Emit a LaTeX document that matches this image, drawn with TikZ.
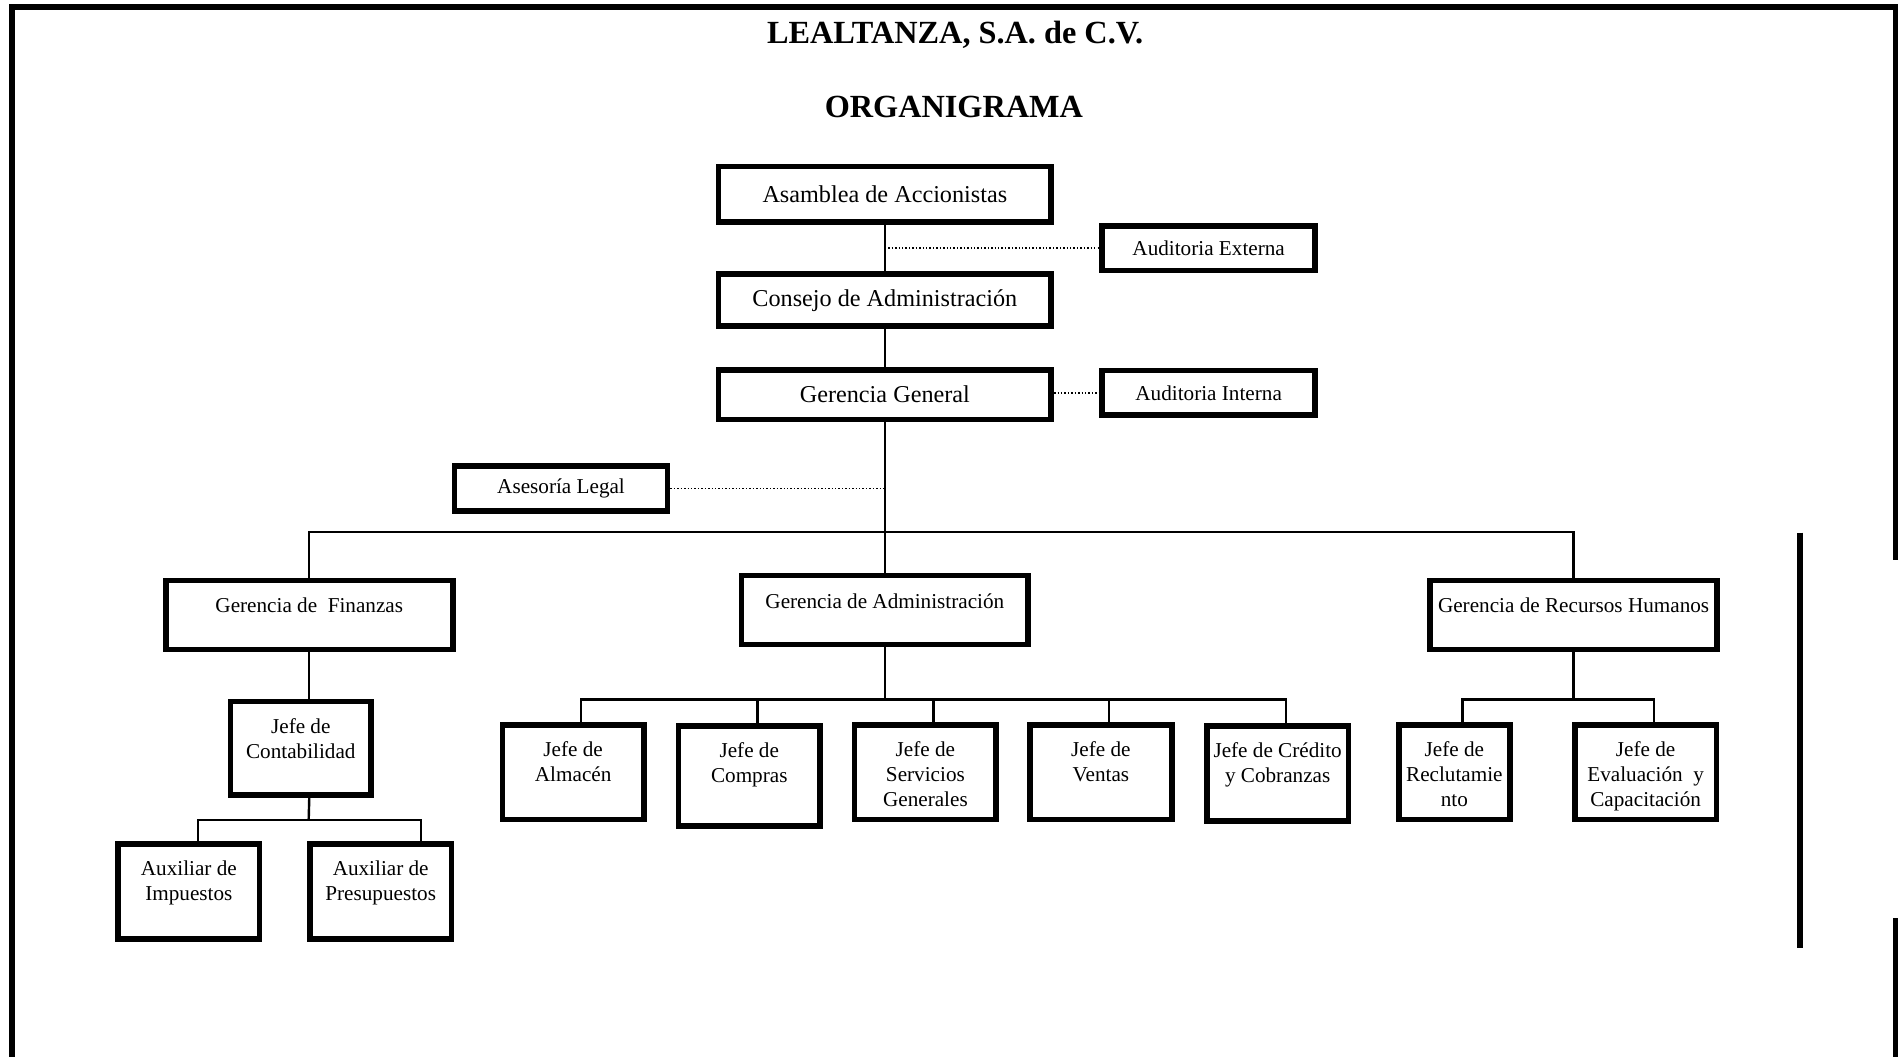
\documentclass[tikz,border=0pt]{standalone}
\usepackage{fontspec}
\setmainfont{Liberation Serif}
\usetikzlibrary{positioning}

\tikzset{
  caja/.style={draw, line width=2.8pt, inner sep=0pt, font=\fontsize{10.5}{12.4}\selectfont},
  mayor/.style={caja, minimum width=165pt, font=\fontsize{12}{14.4}\selectfont},
  auditoria/.style={caja, minimum width=105.6pt, minimum height=22.2pt},
  gerencia/.style={caja, minimum width=142.2pt, minimum height=34.2pt},
  jefe/.style={caja, minimum width=70.2pt, minimum height=46.8pt},
  rotulo/.style={inner sep=0pt, align=center, font=\fontsize{10.5}{12.4}\selectfont},
  titulo/.style={font=\fontsize{16}{19}\selectfont\bfseries},
  linea/.style={line width=1.2pt},
  punteada/.style={line width=0.7pt, densely dotted},
  marco/.style={line width=3pt},
}

\begin{document}
\begin{tikzpicture}[x=0.6pt, y=-0.6pt]
\useasboundingbox (0,0) rectangle (1568,873);
% marco
\draw[marco] (10,873) -- (10,5.8) -- (1566,5.8) -- (1566,463);
\draw[marco] (1566,758) -- (1566,873);
\draw[marco] (1487,440) -- (1487,783);

\node[titulo] (empresa) at (789,29) {LEALTANZA, S.A. de C.V.};
\node[titulo] (org) at (788,88) {ORGANIGRAMA};

% direccion
\node[mayor, minimum height=27.6pt] (asam) at (731,160.5) {Asamblea de Accionistas};
\node[mayor, minimum height=25.8pt] (cons) at (731,248) {Consejo de Administración};
\node[mayor, minimum height=24.6pt] (gg) at (731,326) {Gerencia General};
\node[auditoria] (ext) at (998.5,205) {Auditoria Externa};
\node[auditoria] (int) at (998.5,324.5) {Auditoria Interna};
\node[auditoria] (legal) at (463.5,403.5) {Asesoría Legal};

% gerencias
\node[gerencia] (fin) at (255.5,508) {};
\node[gerencia] (adm) at (731,504) {};
\node[gerencia] (rh) at (1300,508) {};
\node[rotulo, below=10pt of fin.north] (fin-t) {Gerencia de~ Finanzas};
\node[rotulo, below=10pt of adm.north] (adm-t) {Gerencia de Administración};
\node[rotulo, below=10pt of rh.north] (rh-t) {Gerencia de Recursos Humanos};

% jefes
\node[jefe, minimum width=69.6pt, minimum height=46.2pt] (cont) at (248.5,618) {};
\node[jefe] (imp) at (156,736.5) {};
\node[jefe] (pre) at (314.5,736.5) {};
\node[jefe] (alm) at (473.5,638) {};
\node[jefe, minimum height=49.8pt] (com) at (619,641) {};
\node[jefe] (serv) at (764.5,638) {};
\node[jefe] (ven) at (909.5,638) {};
\node[jefe, minimum height=47.4pt] (cred) at (1055.5,639) {};
\node[jefe, minimum width=55.2pt] (rec) at (1201.5,638) {};
\node[jefe] (eva) at (1359.5,638) {};

\node[rotulo, below=9.5pt of cont.north] (cont-t) {Jefe de\\Contabilidad};
\node[rotulo, below=9.5pt of imp.north] (imp-t) {Auxiliar de\\Impuestos};
\node[rotulo, below=9.5pt of pre.north] (pre-t) {Auxiliar de\\Presupuestos};
\node[rotulo, below=9.5pt of alm.north] (alm-t) {Jefe de\\Almacén};
\node[rotulo, below=9.5pt of com.north] (com-t) {Jefe de\\Compras};
\node[rotulo, below=9.5pt of serv.north] (serv-t) {Jefe de\\Servicios\\Generales};
\node[rotulo, below=9.5pt of ven.north] (ven-t) {Jefe de\\Ventas};
\node[rotulo, below=9.5pt of cred.north] (cred-t) {Jefe de Crédito\\y Cobranzas};
\node[rotulo, below=9.5pt of rec.north] (rec-t) {Jefe de\\Reclutamie\\nto};
\node[rotulo, below=9.5pt of eva.north] (eva-t) {Jefe de\\Evaluación~ y\\Capacitación};

% lineas
\draw[linea] (asam) -- (cons);
\draw[linea] (cons) -- (gg);
\draw[linea] (gg) -- (adm);
\coordinate (cruce) at (731,439.5);
\draw[linea] (fin.north) |- (cruce) -| (rh.north);
\draw[punteada] (asam.south |- ext) -- (ext);
\draw[punteada] (gg.east |- int) -- (int);
\draw[punteada] (legal) -- (legal -| gg);

\draw[linea] (fin) -- (fin |- cont.north);
\coordinate (cbus) at (255,677.5);
\draw[linea] (fin |- cont.south) -- (cbus);
\draw[linea] ([xshift=4.5pt]imp.north) |- (cbus) -| ([xshift=20pt]pre.north);

\coordinate (abus) at (731,578);
\draw[linea] (adm) -- (abus);
\draw[linea] ([xshift=4pt]alm.north) |- (abus) -| ([xshift=4pt]cred.north);
\foreach \j in {com,serv,ven}
  \draw[linea] ([xshift=4pt]\j.north) -- ([xshift=4pt]\j.north |- abus);

\coordinate (rbus) at (1300,578);
\draw[linea] (rh) -- (rbus);
\draw[linea] ([xshift=4pt]rec.north) |- (rbus) -| ([xshift=4pt]eva.north);
\end{tikzpicture}
\end{document}
